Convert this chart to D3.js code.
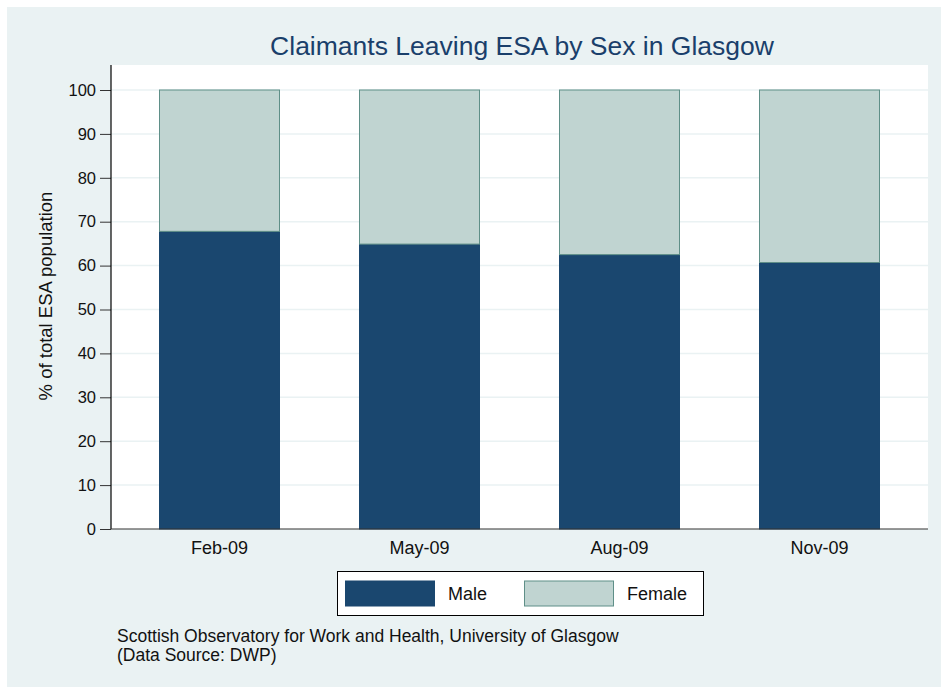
<!DOCTYPE html>
<html>
<head>
<meta charset="utf-8">
<script src="https://cdn.jsdelivr.net/npm/d3@7"></script>
<style>
  body { margin: 0; background: #ffffff; }
  text { font-family: "Liberation Sans", Arial, sans-serif; }
</style>
</head>
<body>
<div id="chart"></div>
<script>
// chart data
var quarters = ["Feb-09", "May-09", "Aug-09", "Nov-09"];
var male = [67.8, 64.9, 62.5, 60.7];
var female = [32.2, 35.1, 37.5, 39.3];
var yTicks = [0, 10, 20, 30, 40, 50, 60, 70, 80, 90, 100];
var seriesNames = ["Male", "Female"];

var svgWidth = 941;
var svgHeight = 687;

//plot area edges inside the svg
var plot = { left: 111, right: 928, top: 65, bottom: 529 };

var svg = d3.select("#chart")
    .append("svg")
    .attr("width", svgWidth)
    .attr("height", svgHeight);

//light background panel
svg.append("rect")
    .attr("x", 7)
    .attr("y", 7)
    .attr("width", svgWidth - 7)
    .attr("height", svgHeight - 7)
    .attr("fill", "#eaf2f3");

//white plot region
svg.append("rect")
    .attr("x", plot.left)
    .attr("y", plot.top)
    .attr("width", plot.right - plot.left)
    .attr("height", plot.bottom - plot.top)
    .attr("fill", "#ffffff");

//scales
var xScale = d3.scaleBand()
    .domain(quarters)
    .range([plot.left, plot.right])
    .paddingInner(0.4)
    .paddingOuter(0.2425);

var yScale = d3.scaleLinear()
    .domain([0, 100])
    .range([plot.bottom, 90]);

//gridlines
svg.append("g")
    .selectAll("line")
    .data(yTicks.filter(d => d > 0))
    .enter()
    .append("line")
    .attr("x1", plot.left)
    .attr("x2", plot.right)
    .attr("y1", d => yScale(d))
    .attr("y2", d => yScale(d))
    .attr("stroke", "#eaf2f3")
    .attr("stroke-width", 1.5);

//stack the two series
var rows = quarters.map(function(q, i) {
    return { quarter: q, Male: male[i], Female: female[i] };
});
var stacked = d3.stack().keys(seriesNames)(rows);
var fills = { Male: "#1a476f", Female: "#c0d4d1" };
var strokes = { Male: "#1a476f", Female: "#5f8f88" };

svg.append("g")
    .selectAll("g")
    .data(stacked)
    .enter()
    .append("g")
    .attr("fill", d => fills[d.key])
    .attr("stroke", d => strokes[d.key])
    .selectAll("rect")
    .data(d => d)
    .enter()
    .append("rect")
    .attr("x", d => xScale(d.data.quarter))
    .attr("y", d => yScale(d[1]))
    .attr("width", xScale.bandwidth())
    .attr("height", d => yScale(d[0]) - yScale(d[1]))
    .attr("stroke-width", 1);

//y axis
var leftAxis = d3.axisLeft(yScale)
    .tickValues(yTicks)
    .tickSize(11)
    .tickPadding(4)
    .tickSizeOuter(0);

var yAxisG = svg.append("g")
    .attr("transform", `translate(${plot.left}, 0)`)
    .call(leftAxis);
yAxisG.select(".domain").remove();
yAxisG.selectAll("line").attr("stroke", "#333").attr("stroke-width", 1);
yAxisG.selectAll("text")
    .attr("font-size", "16.5px")
    .attr("fill", "#111");

svg.append("line")
    .attr("x1", plot.left)
    .attr("x2", plot.left)
    .attr("y1", plot.top)
    .attr("y2", plot.bottom)
    .attr("stroke", "#000")
    .attr("stroke-width", 1.2);

//x axis
var bottomAxis = d3.axisBottom(xScale)
    .tickSize(0)
    .tickPadding(12);

var xAxisG = svg.append("g")
    .attr("transform", `translate(0, ${plot.bottom})`)
    .call(bottomAxis);
xAxisG.select(".domain").remove();
xAxisG.selectAll("text")
    .attr("font-size", "18px")
    .attr("fill", "#111");

svg.append("line")
    .attr("x1", plot.left)
    .attr("x2", plot.right)
    .attr("y1", plot.bottom)
    .attr("y2", plot.bottom)
    .attr("stroke", "#333")
    .attr("stroke-width", 1.2);

//title
svg.append("text")
    .attr("x", 522)
    .attr("y", 55)
    .attr("text-anchor", "middle")
    .attr("font-size", "26.5px")
    .attr("fill", "#1a3f6b")
    .text("Claimants Leaving ESA by Sex in Glasgow");

//y axis label
svg.append("text")
    .attr("transform", `translate(52, 296) rotate(-90)`)
    .attr("text-anchor", "middle")
    .attr("font-size", "18.5px")
    .attr("fill", "#111")
    .text("% of total ESA population");

//legend
var legend = svg.append("g");
legend.append("rect")
    .attr("x", 337.5)
    .attr("y", 571.5)
    .attr("width", 366)
    .attr("height", 44)
    .attr("fill", "#fff")
    .attr("stroke", "#000")
    .attr("stroke-width", 1);

var legendX = { Male: 345, Female: 524 };
var legendItems = legend.selectAll("g.item")
    .data(seriesNames)
    .enter()
    .append("g")
    .attr("class", "item");

legendItems.append("rect")
    .attr("x", d => legendX[d] + 0.5)
    .attr("y", 581)
    .attr("width", 89)
    .attr("height", 25)
    .attr("fill", d => fills[d])
    .attr("stroke", d => strokes[d]);

legendItems.append("text")
    .attr("x", d => legendX[d] + 103)
    .attr("y", 600)
    .attr("font-size", "18px")
    .attr("fill", "#111")
    .text(d => d);

//source note
svg.append("text")
    .attr("x", 117)
    .attr("y", 642)
    .attr("font-size", "17.5px")
    .attr("fill", "#111")
    .text("Scottish Observatory for Work and Health, University of Glasgow");

svg.append("text")
    .attr("x", 117)
    .attr("y", 661)
    .attr("font-size", "17.5px")
    .attr("fill", "#111")
    .text("(Data Source: DWP)");
</script>
</body>
</html>
